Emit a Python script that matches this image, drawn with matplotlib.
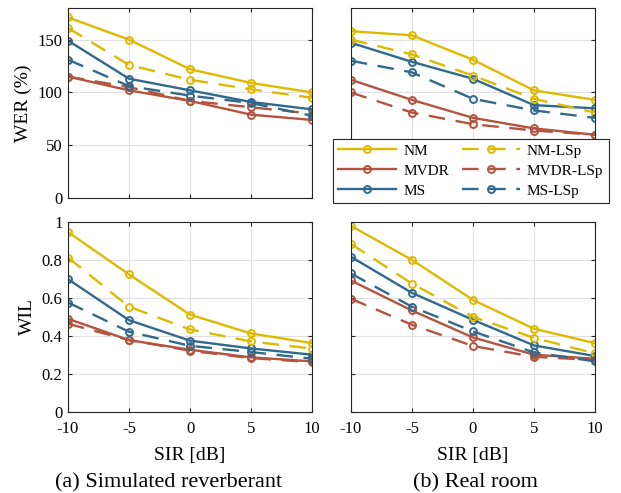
import numpy as np
import matplotlib
matplotlib.use('Agg')
import matplotlib.pyplot as plt

plt.rcParams['font.family'] = ['Liberation Serif', 'DejaVu Serif']
plt.rcParams['mathtext.fontset'] = 'stix'

sir = [-10, -5, 0, 5, 10]
sir_labels = ['-10', '-5', '0', '5', '10']
methods = ['NM', 'MVDR', 'MS', 'NM-LSp', 'MVDR-LSp', 'MS-LSp']

# WER (%) - simulated reverberant
wer_sim_nm = [171, 150, 122, 109, 100]
wer_sim_mvdr = [115, 102, 92, 79, 74]
wer_sim_ms = [149, 113, 102, 91, 84]
wer_sim_nm_lsp = [161, 126, 112, 103, 95]
wer_sim_mvdr_lsp = [115, 105, 92, 86, 80]
wer_sim_ms_lsp = [131, 106, 97, 90, 78]

# WER (%) - real room
wer_real_nm = [158, 154, 131, 102, 93]
wer_real_mvdr = [112, 93, 76, 66, 60]
wer_real_ms = [147, 129, 113, 88, 85]
wer_real_nm_lsp = [150, 136, 116, 94, 81]
wer_real_mvdr_lsp = [100, 81, 70, 64, 60]
wer_real_ms_lsp = [130, 119, 94, 83, 76]

# WIL - simulated reverberant
wil_sim_nm = [0.946, 0.723, 0.511, 0.412, 0.361]
wil_sim_mvdr = [0.489, 0.377, 0.326, 0.286, 0.265]
wil_sim_ms = [0.698, 0.482, 0.374, 0.333, 0.300]
wil_sim_nm_lsp = [0.812, 0.553, 0.433, 0.370, 0.332]
wil_sim_mvdr_lsp = [0.463, 0.377, 0.321, 0.282, 0.261]
wil_sim_ms_lsp = [0.575, 0.421, 0.347, 0.314, 0.279]

# WIL - real room
wil_real_nm = [0.979, 0.800, 0.589, 0.437, 0.361]
wil_real_mvdr = [0.691, 0.533, 0.391, 0.300, 0.279]
wil_real_ms = [0.816, 0.626, 0.484, 0.349, 0.293]
wil_real_nm_lsp = [0.884, 0.675, 0.500, 0.389, 0.307]
wil_real_mvdr_lsp = [0.595, 0.458, 0.346, 0.289, 0.272]
wil_real_ms_lsp = [0.728, 0.553, 0.423, 0.312, 0.265]

yellow = '#DDBA00'
red = '#B4533E'
blue = '#2F6A8E'
colors = [yellow, red, blue, yellow, red, blue]
dash = (0, (7, 4.5))
styles = ['-', '-', '-', dash, dash, dash]

fig = plt.figure(figsize=(6.21, 4.93), dpi=100)
ax_tl = fig.add_axes([0.1095, 0.598, 0.393, 0.386])
ax_tr = fig.add_axes([0.565, 0.598, 0.393, 0.386])
ax_bl = fig.add_axes([0.1095, 0.165, 0.393, 0.385])
ax_br = fig.add_axes([0.565, 0.165, 0.393, 0.385])

panels = [
    (ax_tl, [wer_sim_nm, wer_sim_mvdr, wer_sim_ms, wer_sim_nm_lsp, wer_sim_mvdr_lsp, wer_sim_ms_lsp]),
    (ax_tr, [wer_real_nm, wer_real_mvdr, wer_real_ms, wer_real_nm_lsp, wer_real_mvdr_lsp, wer_real_ms_lsp]),
    (ax_bl, [wil_sim_nm, wil_sim_mvdr, wil_sim_ms, wil_sim_nm_lsp, wil_sim_mvdr_lsp, wil_sim_ms_lsp]),
    (ax_br, [wil_real_nm, wil_real_mvdr, wil_real_ms, wil_real_nm_lsp, wil_real_mvdr_lsp, wil_real_ms_lsp]),
]

handles = []
for ax, series in panels:
    for i, vals in enumerate(series):
        ln, = ax.plot(sir, vals, color=colors[i], linestyle=styles[i], linewidth=1.7,
                      marker='o', markersize=5, markerfacecolor='none',
                      markeredgewidth=1.4, label=methods[i])
        if ax is ax_tr:
            handles.append(ln)
    ax.set_xlim(-10, 10)
    ax.set_xticks(sir)
    ax.grid(True, color='#E0E0E0', linewidth=0.8)
    ax.set_axisbelow(True)
    ax.tick_params(direction='in', top=True, right=True, labelsize=12,
                   length=3, color='#262626')
    ax.tick_params(axis='x', pad=7)
    ax.tick_params(axis='y', pad=4)
    for s in ax.spines.values():
        s.set_color('#262626')
        s.set_linewidth(0.8)

for ax in (ax_tl, ax_tr):
    ax.set_ylim(0, 180)
    ax.set_yticks([0, 50, 100, 150])
    ax.set_xticklabels([])
for ax in (ax_bl, ax_br):
    ax.set_ylim(0, 1)
    ax.set_yticks([0, 0.2, 0.4, 0.6, 0.8, 1])
    ax.set_yticklabels(['0', '0.2', '0.4', '0.6', '0.8', '1'])
    ax.set_xticklabels(sir_labels)
    ax.set_xlabel('SIR [dB]', fontsize=14, labelpad=7)
for ax in (ax_tr, ax_br):
    ax.set_yticklabels([])

ax_tl.set_ylabel('WER (%)', fontsize=14, labelpad=4)
ax_bl.set_ylabel('WIL', fontsize=14, labelpad=4)

# subfigure captions
fig.text(0.272, 0.021, '(a) Simulated reverberant', ha='center', va='center', fontsize=16)
fig.text(0.765, 0.021, '(b) Real room', ha='center', va='center', fontsize=16)

leg = fig.legend(handles=handles, ncol=2, loc='upper left',
                 bbox_to_anchor=(0.536, 0.719), bbox_transform=fig.transFigure,
                 borderaxespad=0, fontsize=11, handlelength=3.8, columnspacing=0.85,
                 handletextpad=0.45, labelspacing=0.42, borderpad=0.35,
                 frameon=True, fancybox=False, framealpha=1)
leg.get_frame().set_edgecolor('#262626')
leg.get_frame().set_linewidth(0.8)

fig.savefig('out.png', dpi=100)
